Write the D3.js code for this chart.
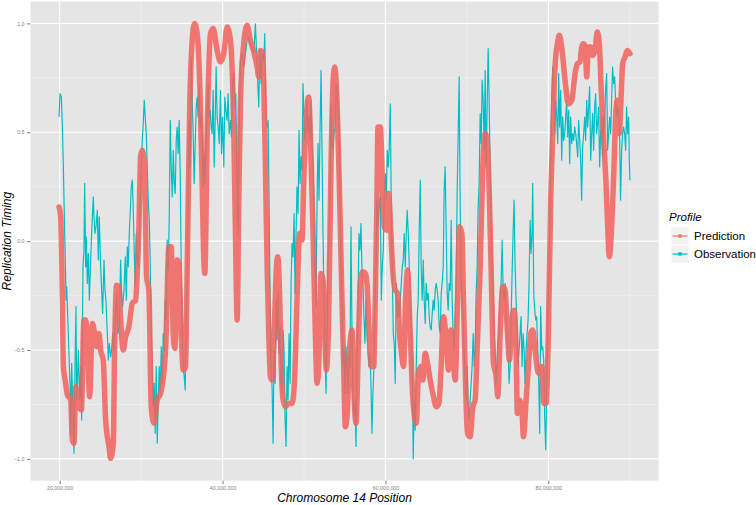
<!DOCTYPE html>
<html>
<head>
<meta charset="utf-8">
<script src="https://cdn.jsdelivr.net/npm/d3@7"></script>
<style>
  body { margin: 0; background: #fff; }
  svg { display: block; font-family: "Liberation Sans", Arial, sans-serif; }
</style>
</head>
<body>
<svg width="756" height="505"></svg>
<script>
// positions in Mb, replication timing values
var prediction = [
  [19.92,0.157],[20.12,0.112],[20.33,-0.271],[20.45,-0.576],[20.74,-0.653],[20.94,-0.706],[21.35,-0.729],[21.55,-0.913],[21.76,-0.928],[21.96,-0.668],
  [22.17,-0.729],[22.37,-0.76],[22.66,-0.775],[22.98,-0.362],[23.19,-0.362],[23.47,-0.546],[23.68,-0.714],[24.01,-0.378],[24.29,-0.424],[24.54,-0.485],
  [24.82,-0.424],[25.03,-0.5],[25.35,-0.546],[25.64,-0.821],[26.05,-0.943],[26.25,-0.997],[26.58,-0.928],[26.74,-0.5],[26.99,-0.202],[27.28,-0.209],
  [27.48,-0.362],[27.81,-0.5],[28.09,-0.439],[28.5,-0.393],[28.91,-0.286],[29.32,-0.271],[29.52,-0.148],[29.73,0.066],[29.93,0.387],[30.14,0.417],
  [30.42,0.341],[30.67,-0.164],[30.95,-0.225],[31.24,-0.76],[31.57,-0.836],[31.98,-0.729],[32.39,-0.699],[33.0,-0.5],[33.41,-0.026],[33.69,-0.026],
  [33.94,-0.424],[34.14,-0.492],[34.43,-0.087],[34.63,-0.102],[34.92,-0.424],[35.16,-0.592],[35.45,-0.576],[35.66,-0.118],[35.98,0.647],[36.27,0.922],
  [36.55,1.0],[36.88,0.953],[37.21,0.708],[37.49,0.265],[37.7,-0.087],[37.82,-0.148],[38.11,0.494],[38.52,0.953],[38.84,0.976],[39.33,0.876],
  [39.74,0.823],[40.15,0.861],[40.56,0.983],[40.97,0.922],[41.38,0.494],[41.58,0.035],[41.79,-0.362],[41.99,0.188],[42.2,0.647],[42.52,0.876],
  [43.01,0.991],[43.42,0.922],[43.83,0.869],[44.24,0.8],[44.44,0.754],[44.65,0.876],[44.85,0.869],[45.06,0.723],[45.26,0.341],[45.47,-0.118],
  [45.67,-0.424],[45.87,-0.622],[46.08,-0.638],[46.36,-0.393],[46.61,-0.118],[46.77,-0.072],[47.02,-0.271],[47.18,-0.546],[47.43,-0.729],[47.71,-0.76],
  [48.12,-0.745],[48.53,-0.745],[48.82,-0.653],[49.14,-0.271],[49.47,0.035],[49.76,0.005],[49.96,0.265],[50.29,0.57],[50.57,0.662],[50.78,0.494],
  [51.11,0.035],[51.39,-0.424],[51.6,-0.653],[51.8,-0.576],[52.09,-0.148],[52.33,-0.179],[52.54,-0.424],[52.74,-0.592],[53.03,-0.347],[53.31,0.341],
  [53.56,0.723],[53.76,0.8],[54.05,0.647],[54.38,0.188],[54.66,-0.271],[54.87,-0.576],[55.07,-0.852],[55.28,-0.806],[55.6,-0.5],[55.89,-0.408],
  [56.09,-0.653],[56.38,-0.836],[56.71,-0.424],[56.91,-0.194],[57.2,-0.141],[57.52,-0.148],[57.73,-0.194],[58.01,-0.424],[58.26,-0.576],[58.55,-0.576],
  [58.75,-0.271],[58.95,0.188],[59.08,0.524],[59.36,0.524],[59.69,0.188],[59.85,0.066],[60.1,0.05],[60.38,0.219],[60.67,0.035],[60.92,-0.148],
  [61.2,-0.225],[61.49,-0.24],[61.73,-0.424],[62.02,-0.531],[62.22,-0.576],[62.47,-0.271],[62.71,-0.133],[63.04,-0.424],[63.37,-0.729],[63.78,-0.836],
  [64.06,-0.607],[64.35,-0.576],[64.59,-0.638],[64.88,-0.515],[65.17,-0.561],[65.49,-0.638],[65.9,-0.714],[66.23,-0.76],[66.56,-0.745],[66.8,-0.607],
  [67.13,-0.347],[67.46,-0.454],[67.74,-0.592],[68.03,-0.408],[68.35,-0.561],[68.56,-0.638],[68.85,-0.271],[69.09,0.066],[69.38,0.035],[69.58,-0.271],
  [69.83,-0.653],[70.07,-0.882],[70.4,-0.898],[70.73,-0.76],[71.01,-0.729],[71.3,-0.454],[71.63,-0.118],[71.95,0.341],[72.24,0.494],[72.52,0.448],
  [72.77,0.188],[73.06,-0.271],[73.26,-0.561],[73.59,-0.622],[73.79,-0.714],[74.08,-0.424],[74.4,-0.209],[74.69,-0.225],[74.98,-0.424],[75.22,-0.546],
  [75.51,-0.362],[75.79,-0.317],[76.04,-0.5],[76.2,-0.791],[76.45,-0.729],[76.73,-0.76],[76.94,-0.898],[77.27,-0.729],[77.55,-0.576],[77.84,-0.424],
  [78.08,-0.408],[78.37,-0.5],[78.78,-0.607],[79.19,-0.576],[79.47,-0.745],[79.72,-0.745],[80.0,-0.424],[80.29,0.188],[80.54,0.494],[80.82,0.8],
  [81.11,0.907],[81.35,0.945],[81.64,0.891],[82.05,0.739],[82.46,0.631],[82.87,0.647],[83.28,0.769],[83.56,0.815],[83.89,0.823],[84.09,0.891],
  [84.3,0.907],[84.54,0.891],[84.71,0.754],[84.91,0.891],[85.2,0.891],[85.44,0.853],[85.73,0.876],[86.01,0.96],[86.26,0.907],[86.46,0.723],
  [86.75,0.494],[87.08,0.265],[87.24,0.112],[87.49,-0.072],[87.77,0.066],[88.06,0.341],[88.3,0.601],[88.47,0.647],[88.71,0.494],[88.92,0.647],
  [89.12,0.815],[89.41,0.846],[89.69,0.876],[90.02,0.861]
];

var observation = [
  [19.92,0.57],[20.04,0.677],[20.2,0.662],[20.33,0.524],[20.45,0.341],[20.61,0.035],[20.69,-0.087],[20.78,-0.271],[20.86,-0.209],[20.94,-0.301],
  [21.06,-0.424],[21.19,-0.576],[21.27,-0.653],[21.35,-0.882],[21.47,-0.561],[21.59,-0.729],[21.68,-0.882],[21.76,-0.974],[21.88,-0.576],[22.0,-0.301],
  [22.08,-0.729],[22.17,-0.653],[22.29,-0.5],[22.45,-0.729],[22.58,-0.576],[22.7,-0.821],[22.78,-0.469],[22.86,-0.118],[22.98,-0.041],[23.07,0.265],
  [23.19,-0.118],[23.27,0.02],[23.39,-0.194],[23.52,-0.057],[23.64,-0.271],[23.8,-0.087],[23.92,0.035],[24.01,0.112],[24.13,0.203],[24.21,0.112],
  [24.33,0.035],[24.46,0.066],[24.62,0.142],[24.74,-0.087],[24.86,0.112],[25.03,-0.118],[25.15,-0.225],[25.27,-0.332],[25.44,-0.087],[25.56,-0.225],
  [25.68,-0.271],[25.85,-0.424],[25.97,-0.546],[26.09,-0.469],[26.25,-0.531],[26.38,-0.5],[26.5,-0.424],[26.66,-0.5],[26.87,-0.317],[26.99,-0.24],
  [27.15,-0.424],[27.32,-0.393],[27.48,-0.087],[27.6,-0.24],[27.73,-0.301],[27.89,-0.225],[28.05,-0.072],[28.18,-0.271],[28.3,-0.026],[28.42,-0.118],
  [28.54,0.035],[28.67,0.142],[28.79,0.249],[28.91,0.28],[29.03,0.157],[29.16,-0.057],[29.28,-0.209],[29.4,0.035],[29.52,-0.087],[29.65,-0.118],
  [29.77,0.005],[29.89,0.188],[30.01,0.341],[30.14,0.463],[30.26,0.54],[30.38,0.647],[30.5,0.57],[30.63,0.494],[30.75,0.341],[30.87,0.188],
  [31.0,0.096],[31.12,-0.118],[31.24,-0.424],[31.36,-0.561],[31.49,-0.76],[31.61,-0.653],[31.73,-0.882],[31.85,-0.576],[31.98,-0.928],[32.1,-0.729],
  [32.22,-0.576],[32.34,-0.699],[32.47,-0.485],[32.59,-0.653],[32.71,-0.424],[32.83,-0.5],[32.96,-0.271],[33.08,-0.362],[33.2,0.005],[33.33,-0.133],
  [33.45,0.112],[33.57,0.555],[33.69,0.341],[33.82,0.203],[33.94,0.417],[34.06,0.265],[34.18,0.219],[34.31,0.463],[34.43,0.524],[34.55,0.402],
  [34.67,0.555],[34.8,0.31],[34.92,-0.118],[35.04,-0.424],[35.16,-0.576],[35.29,-0.622],[35.41,-0.683],[35.53,-0.347],[35.66,-0.194],[35.78,0.219],
  [35.9,0.555],[36.02,0.341],[36.15,0.846],[36.27,0.647],[36.39,0.494],[36.51,0.265],[36.64,0.448],[36.76,0.616],[36.88,0.662],[37.0,0.57],
  [37.13,0.708],[37.25,0.524],[37.37,0.586],[37.49,0.463],[37.62,0.249],[37.74,0.402],[37.86,0.265],[37.99,0.494],[38.11,0.586],[38.23,0.723],
  [38.35,0.57],[38.48,0.601],[38.6,0.524],[38.72,0.494],[38.84,0.693],[38.97,0.341],[39.09,0.555],[39.21,0.8],[39.33,0.57],[39.46,0.524],
  [39.58,0.448],[39.74,0.693],[39.87,0.402],[39.99,0.57],[40.15,0.341],[40.27,0.662],[40.4,0.601],[40.56,0.555],[40.68,0.677],[40.81,0.494],
  [40.97,0.555],[41.09,0.479],[41.21,0.723],[41.38,0.769],[41.5,0.616],[41.62,0.677],[41.79,0.188],[41.91,0.035],[42.03,0.494],[42.2,0.83],
  [42.4,0.861],[42.6,0.8],[42.81,0.861],[43.01,0.922],[43.22,0.937],[43.42,0.907],[43.63,0.884],[43.83,0.861],[44.03,0.998],[44.24,0.8],
  [44.44,0.616],[44.57,0.876],[44.73,0.723],[44.89,0.861],[45.06,0.83],[45.18,0.953],[45.3,0.555],[45.47,0.524],[45.59,0.555],[45.71,0.188],
  [45.83,-0.271],[45.96,-0.607],[46.08,-0.668],[46.2,-0.928],[46.32,-0.5],[46.45,-0.653],[46.57,-0.271],[46.69,-0.454],[46.81,-0.24],[46.94,-0.515],
  [47.06,-0.393],[47.18,-0.653],[47.3,-0.699],[47.43,-0.408],[47.55,-0.5],[47.67,-0.806],[47.79,-0.943],[47.92,-0.576],[48.04,-0.729],[48.16,-0.424],
  [48.29,-0.653],[48.41,-0.194],[48.53,-0.011],[48.65,-0.072],[48.78,0.127],[48.9,-0.24],[49.02,0.035],[49.14,0.249],[49.27,0.127],[49.39,0.509],
  [49.51,0.265],[49.63,0.387],[49.76,0.326],[49.88,0.723],[50.0,0.57],[50.12,0.463],[50.25,0.524],[50.37,0.647],[50.49,0.494],[50.62,0.57],
  [50.74,0.463],[50.86,0.647],[50.98,0.448],[51.11,0.341],[51.23,0.112],[51.35,-0.118],[51.47,-0.301],[51.6,0.188],[51.72,0.448],[51.84,0.188],
  [51.96,0.494],[52.09,0.784],[52.21,0.417],[52.33,0.035],[52.45,-0.271],[52.58,-0.5],[52.7,-0.699],[52.82,-0.424],[52.95,-0.087],[53.07,0.035],
  [53.19,0.188],[53.31,0.631],[53.44,0.433],[53.56,0.417],[53.68,0.494],[53.8,0.524],[53.93,0.723],[54.05,0.693],[54.17,0.601],[54.29,0.54],
  [54.42,0.188],[54.54,-0.118],[54.66,-0.271],[54.78,-0.576],[54.91,-0.5],[55.03,-0.699],[55.15,-0.485],[55.28,-0.576],[55.4,-0.699],[55.52,-0.515],
  [55.64,-0.576],[55.77,0.066],[55.89,-0.424],[56.01,-0.729],[56.13,-0.806],[56.26,-0.729],[56.38,-0.943],[56.5,-0.576],[56.62,-0.271],[56.75,0.035],
  [56.87,-0.041],[56.99,0.081],[57.11,-0.118],[57.24,-0.194],[57.36,-0.347],[57.48,-0.469],[57.61,-0.271],[57.73,-0.424],[57.85,-0.5],[57.97,-0.576],
  [58.1,-0.515],[58.22,-0.653],[58.34,-0.882],[58.46,-0.699],[58.59,-0.576],[58.71,-0.271],[58.83,-0.118],[58.95,0.188],[59.08,0.066],[59.2,0.157],
  [59.36,0.203],[59.49,-0.271],[59.61,-0.118],[59.73,-0.041],[59.85,0.188],[59.98,0.31],[60.1,0.188],[60.22,0.417],[60.34,0.341],[60.47,0.433],
  [60.59,0.631],[60.71,0.188],[60.83,-0.118],[60.96,-0.424],[61.08,-0.469],[61.2,-0.653],[61.32,-0.194],[61.45,-0.347],[61.57,-0.271],[61.69,-0.347],
  [61.82,-0.271],[61.94,-0.194],[62.06,-0.118],[62.18,-0.087],[62.31,0.035],[62.43,-0.118],[62.55,0.035],[62.67,0.142],[62.8,0.035],[62.92,-0.118],
  [63.04,-0.271],[63.16,-0.424],[63.29,-0.576],[63.41,-1.0],[63.53,-0.729],[63.65,-0.867],[63.78,-0.576],[63.9,-0.347],[64.02,-0.271],[64.14,0.035],
  [64.27,0.28],[64.39,-0.118],[64.51,-0.271],[64.64,-0.087],[64.76,-0.271],[64.88,-0.378],[65.0,-0.194],[65.13,-0.271],[65.25,-0.24],[65.37,-0.347],
  [65.49,-0.393],[65.62,-0.408],[65.74,-0.332],[65.86,-0.271],[65.98,-0.317],[66.11,-0.225],[66.23,-0.194],[66.35,-0.225],[66.47,-0.271],[66.6,-0.393],
  [66.72,-0.424],[66.84,-0.24],[66.96,-0.194],[67.09,-0.118],[67.21,0.234],[67.33,0.341],[67.46,0.035],[67.58,-0.24],[67.7,-0.317],[67.82,-0.194],
  [67.95,-0.225],[68.07,0.096],[68.19,-0.271],[68.31,-0.424],[68.44,-0.5],[68.56,-0.347],[68.68,-0.194],[68.8,0.219],[68.93,0.494],[69.05,0.754],
  [69.17,0.188],[69.29,-0.194],[69.42,-0.271],[69.54,-0.347],[69.66,-0.5],[69.79,-0.653],[69.91,-0.729],[70.03,-0.576],[70.15,-0.76],[70.28,-0.821],
  [70.4,-0.729],[70.52,-0.653],[70.64,-0.576],[70.77,-0.424],[70.89,-0.576],[71.01,-0.5],[71.13,-0.24],[71.26,-0.118],[71.38,0.157],[71.5,0.265],
  [71.63,0.586],[71.75,0.448],[71.87,0.739],[71.99,0.647],[72.12,0.417],[72.24,0.784],[72.36,0.341],[72.48,0.601],[72.61,0.884],[72.73,0.647],
  [72.85,0.341],[72.97,0.035],[73.1,-0.148],[73.22,-0.271],[73.34,-0.424],[73.46,-0.5],[73.59,-0.653],[73.71,-0.546],[73.83,-0.454],[73.96,-0.424],
  [74.08,-0.271],[74.2,-0.194],[74.32,0.005],[74.45,-0.225],[74.57,-0.271],[74.69,-0.194],[74.81,-0.362],[74.94,-0.424],[75.06,-0.5],[75.18,-0.653],
  [75.3,-0.576],[75.43,-0.347],[75.55,-0.148],[75.67,0.035],[75.79,0.188],[75.92,-0.118],[76.04,-0.271],[76.16,-0.424],[76.28,-0.576],[76.41,-0.5],
  [76.53,-0.424],[76.65,-0.347],[76.77,-0.576],[76.9,-0.424],[77.02,-0.5],[77.14,-0.653],[77.27,-0.5],[77.39,-0.424],[77.51,-0.362],[77.63,-0.194],
  [77.76,0.096],[77.88,-0.057],[78.0,0.035],[78.08,0.265],[78.21,-0.24],[78.33,-0.317],[78.45,-0.362],[78.57,-0.347],[78.7,-0.5],[78.82,-0.653],
  [78.94,-0.882],[79.06,-0.301],[79.19,-0.5],[79.31,-0.485],[79.43,-0.546],[79.55,-0.806],[79.68,-0.959],[79.8,-0.653],[79.92,-0.424],[80.04,-0.194],
  [80.17,0.035],[80.29,0.341],[80.41,0.647],[80.54,0.8],[80.66,0.723],[80.78,0.494],[80.9,0.647],[81.03,0.57],[81.15,0.448],[81.27,0.769],
  [81.39,0.524],[81.52,0.693],[81.64,0.372],[81.76,0.57],[81.88,0.463],[82.01,0.494],[82.13,0.57],[82.25,0.647],[82.37,0.479],[82.5,0.601],
  [82.62,0.356],[82.74,0.57],[82.87,0.448],[82.99,0.494],[83.11,0.463],[83.23,0.524],[83.36,0.494],[83.48,0.448],[83.6,0.387],[83.72,0.555],
  [83.85,0.463],[83.97,0.372],[84.09,0.188],[84.21,0.433],[84.34,0.494],[84.46,0.57],[84.58,0.463],[84.71,0.647],[84.83,0.524],[84.95,0.616],
  [85.07,0.708],[85.2,0.372],[85.32,0.494],[85.44,0.586],[85.56,0.417],[85.69,0.616],[85.81,0.677],[85.93,0.494],[86.05,0.54],[86.18,0.616],
  [86.3,0.341],[86.42,0.494],[86.54,0.57],[86.67,0.387],[86.79,0.57],[86.91,0.524],[87.04,0.708],[87.16,0.769],[87.28,0.417],[87.4,0.494],
  [87.53,0.57],[87.65,0.494],[87.77,0.647],[87.89,0.8],[88.02,0.723],[88.14,0.754],[88.26,0.647],[88.38,0.57],[88.51,0.616],[88.63,0.601],
  [88.75,0.494],[88.87,0.188],[89.0,0.417],[89.12,0.494],[89.24,0.524],[89.37,0.494],[89.49,0.417],[89.61,0.616],[89.73,0.494],[89.86,0.57],
  [89.94,0.372],[90.02,0.28]
];

var xTicks = [20e6, 40e6, 60e6, 80e6];
var xMinor = [30e6, 50e6, 70e6, 90e6];
var yTicks = [-1, -0.5, 0, 0.5, 1];
var yMinor = [-0.75, -0.25, 0.25, 0.75];
var profiles = ["Prediction", "Observation"];
var colors = ["#F8766D", "#00BFC4"];

var svg = d3.select("svg"),
    margin = {top: 1.6, right: 97.5, bottom: 24.3, left: 30.5},
    width = +svg.attr("width") - margin.left - margin.right,
    height = +svg.attr("height") - margin.top - margin.bottom;

var all = prediction.concat(observation);
var xExt = d3.extent(all, function(d) { return d[0] * 1e6; }),
    yExt = d3.extent(all, function(d) { return d[1]; });
var xPad = (xExt[1] - xExt[0]) * 0.05,
    yPad = (yExt[1] - yExt[0]) * 0.05;

var x = d3.scaleLinear().domain([xExt[0] - xPad, xExt[1] + xPad]).range([0, width]);
var y = d3.scaleLinear().domain([yExt[0] - yPad, yExt[1] + yPad]).range([height, 0]);
var color = d3.scaleOrdinal().domain(profiles).range(colors);
var format = d3.format(",d");

var g = svg.append("g").attr("transform", "translate(" + margin.left + "," + margin.top + ")");

// panel
g.append("rect").attr("width", width).attr("height", height).attr("fill", "#E5E5E5");

g.selectAll(".xminor").data(xMinor.filter(function(d) { return x(d) < width; }))
  .enter().append("line")
    .attr("x1", function(d) { return x(d); }).attr("x2", function(d) { return x(d); })
    .attr("y1", 0).attr("y2", height)
    .attr("stroke", "#F2F2F2").attr("stroke-width", 0.6);
g.selectAll(".yminor").data(yMinor)
  .enter().append("line")
    .attr("x1", 0).attr("x2", width)
    .attr("y1", function(d) { return y(d); }).attr("y2", function(d) { return y(d); })
    .attr("stroke", "#F2F2F2").attr("stroke-width", 0.6);
g.selectAll(".xmajor").data(xTicks)
  .enter().append("line")
    .attr("x1", function(d) { return x(d); }).attr("x2", function(d) { return x(d); })
    .attr("y1", 0).attr("y2", height)
    .attr("stroke", "#fff").attr("stroke-width", 1.1);
g.selectAll(".ymajor").data(yTicks)
  .enter().append("line")
    .attr("x1", 0).attr("x2", width)
    .attr("y1", function(d) { return y(d); }).attr("y2", function(d) { return y(d); })
    .attr("stroke", "#fff").attr("stroke-width", 1.1);

// series
var obsLine = d3.line()
    .x(function(d) { return x(d[0] * 1e6); })
    .y(function(d) { return y(d[1]); });
var predLine = d3.line()
    .x(function(d) { return x(d[0] * 1e6); })
    .y(function(d) { return y(d[1]); })
    .curve(d3.curveMonotoneX);

g.append("path").datum(observation)
    .attr("d", obsLine)
    .attr("fill", "none")
    .attr("stroke", color("Observation"))
    .attr("stroke-width", 1.2)
    .attr("stroke-linejoin", "round");

g.append("path").datum(prediction)
    .attr("d", predLine)
    .attr("fill", "none")
    .attr("stroke", "#F2625D")
    .attr("stroke-width", 5.5)
    .attr("stroke-opacity", 0.85)
    .attr("stroke-linecap", "round")
    .attr("stroke-linejoin", "round");

// axes
var xAxis = g.append("g").attr("transform", "translate(0," + height + ")")
    .call(d3.axisBottom(x).tickValues(xTicks).tickFormat(format).tickSize(3.5).tickPadding(2));
var yAxis = g.append("g")
    .call(d3.axisLeft(y).tickValues(yTicks).tickFormat(d3.format(".1f")).tickSize(3.5).tickPadding(2.5));
[xAxis, yAxis].forEach(function(a) {
  a.select(".domain").remove();
  a.selectAll(".tick line").attr("stroke", "#7F7F7F");
  a.selectAll(".tick text").attr("fill", "#7F7F7F").style("font-size", "5.3px")
    .style("font-family", "'Liberation Sans', Arial, sans-serif");
});

svg.append("text")
    .attr("x", margin.left + width / 2).attr("y", 502)
    .attr("text-anchor", "middle")
    .style("font-size", "12px").style("font-style", "italic")
    .text("Chromosome 14 Position");

svg.append("text")
    .attr("transform", "translate(11," + (margin.top + height / 2) + ") rotate(-90)")
    .attr("text-anchor", "middle")
    .style("font-size", "12px").style("font-style", "italic")
    .text("Replication Timing");

// legend
var legend = svg.append("g").attr("transform", "translate(668,0)");
legend.append("text").attr("x", 1).attr("y", 221)
    .style("font-size", "11.5px").style("font-style", "italic")
    .text("Profile");

var item = legend.selectAll(".item").data(profiles)
  .enter().append("g")
    .attr("transform", function(d, i) { return "translate(3," + (227 + i * 18) + ")"; });
item.append("rect").attr("width", 18).attr("height", 18)
    .attr("fill", "#F2F2F2").attr("stroke", "#fff").attr("stroke-width", 0.8);
item.append("line").attr("x1", 1.5).attr("x2", 16.5).attr("y1", 9).attr("y2", 9)
    .attr("stroke", function(d) { return color(d); }).attr("stroke-width", 1.3);
item.append("circle").attr("cx", 9).attr("cy", 9).attr("r", 2)
    .attr("fill", function(d) { return color(d); });
item.append("text").attr("x", 23).attr("y", 9).attr("dy", "0.35em")
    .style("font-size", "11.5px")
    .text(function(d) { return d; });
</script>
</body>
</html>
